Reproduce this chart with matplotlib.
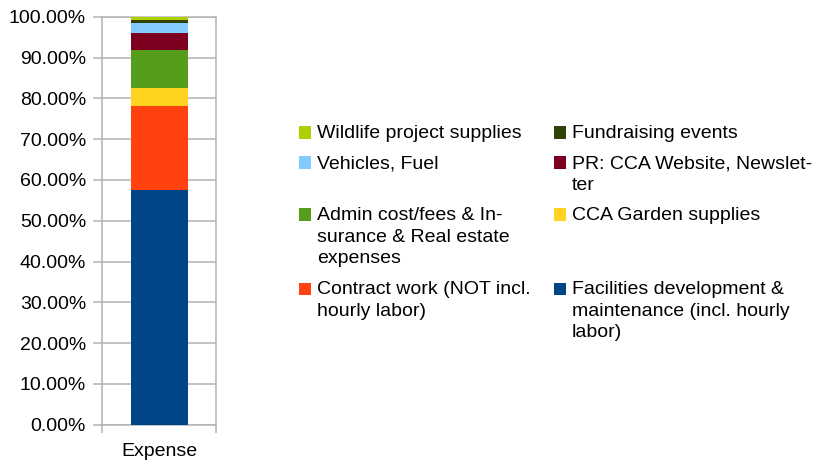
import matplotlib
matplotlib.use("Agg")
import matplotlib.pyplot as plt
from matplotlib.patches import Rectangle
from matplotlib.ticker import FuncFormatter

plt.rcParams['font.family'] = ['Liberation Sans', 'DejaVu Sans']

category = "Expense"
# bottom to top
series = [
    "Facilities development &\nmaintenance (incl. hourly\nlabor)",
    "Contract work (NOT incl.\nhourly labor)",
    "CCA Garden supplies",
    "Admin cost/fees & In-\nsurance & Real estate\nexpenses",
    "PR: CCA Website, Newslet-\nter",
    "Vehicles, Fuel",
    "Fundraising events",
    "Wildlife project supplies",
]
values = [57.6, 20.6, 4.4, 9.3, 4.2, 2.4, 0.8, 0.7]
colors = ["#004586", "#ff420e", "#ffd320", "#579d1c",
          "#7e0021", "#83caff", "#314004", "#aecf00"]
yticks = [0, 10, 20, 30, 40, 50, 60, 70, 80, 90, 100]

W, H = 824, 463
fig = plt.figure(figsize=(W / 100, H / 100), dpi=100)
ax = fig.add_axes([102 / W, 1 - 424.7 / H, 114 / W, 408 / H])

total = sum(values)
bottom = 0.0
for name, v, c in zip(series, values, colors):
    pct = v / total * 100
    ax.bar([0], [pct], bottom=bottom, width=0.5, color=c, label=name, zorder=3)
    bottom += pct

grid_c = "#b3b3b3"
ax.set_xlim(-0.5, 0.5)
ax.set_ylim(0, 100)
ax.set_yticks(yticks)
ax.yaxis.set_major_formatter(FuncFormatter(lambda v, p: f"{v:.2f}%"))
ax.yaxis.grid(True, color=grid_c, linewidth=1.1, zorder=0)
ax.set_axisbelow(True)
ax.tick_params(axis='y', direction='out', length=6.5, width=1.1, color=grid_c,
               pad=5, labelsize=14, labelcolor="#000000")
ax.set_xticks([0])
ax.set_xticklabels([category])
ax.set_xticks([-0.5, 0.5], minor=True)
ax.tick_params(axis='x', which='major', length=0, pad=13.5, labelsize=14)
ax.tick_params(axis='x', which='minor', direction='out', length=5.8, width=1.1, color=grid_c)
for s in ax.spines.values():
    s.set_color(grid_c)
    s.set_linewidth(1.1)

# manual legend (row-major, two columns, rows aligned)
order = [7, 6, 5, 4, 3, 2, 1, 0]
col_x = [299, 554]
y = 132.5
line_px = 22
for r in range(4):
    pair = order[2 * r: 2 * r + 2]
    nlines = 1
    for ci, idx in enumerate(pair):
        x0 = col_x[ci]
        fig.patches.append(Rectangle((x0 / W, 1 - (y + 6) / H), 12 / W, 12 / H,
                                     transform=fig.transFigure, facecolor=colors[idx],
                                     edgecolor='none'))
        fig.text((x0 + 18) / W, 1 - (y - 7.2) / H, series[idx], fontsize=14,
                 va='top', ha='left', linespacing=1.35)
        nlines = max(nlines, series[idx].count("\n") + 1)
    y += (nlines - 1) * line_px + 30

fig.savefig("out.png", dpi=100)
